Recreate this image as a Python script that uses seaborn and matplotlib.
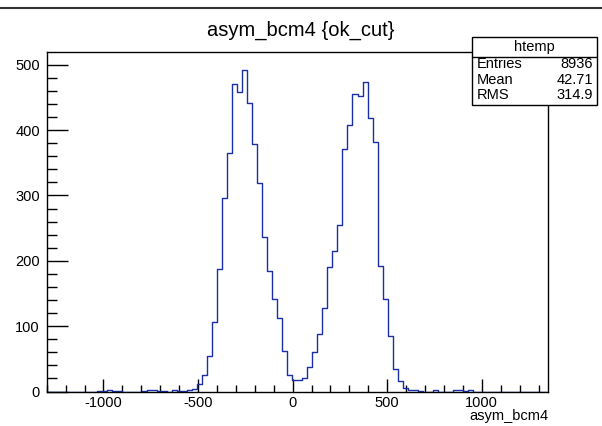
import numpy as np
import pandas as pd
import matplotlib
matplotlib.use("Agg")
import matplotlib.pyplot as plt
from matplotlib.ticker import MultipleLocator
from matplotlib.lines import Line2D
from matplotlib.patches import Rectangle
import seaborn as sns

# ---- data ----
x_min, x_max, n_bins = -1300.0, 1350.0, 100
counts = [
    0, 0, 0, 0, 0, 0, 0, 0, 0, 0,
    1, 1, 3, 1, 1, 0, 0, 0, 0, 1,
    2, 3, 1, 1, 0, 2, 1, 1, 3, 4,
    11, 26, 55, 106, 188, 296, 365, 470, 459, 492,
    441, 379, 319, 237, 184, 141, 113, 62, 26, 17,
    18, 21, 37, 61, 88, 128, 190, 215, 254, 371,
    408, 455, 452, 473, 419, 381, 192, 141, 85, 34,
    16, 6, 2, 2, 1, 0, 0, 3, 0, 0,
    0, 3, 3, 1, 3, 0, 0, 0, 0, 0,
    0, 0, 0, 0, 0, 0, 0, 0, 0, 0,
]
title = "asym_bcm4 {ok_cut}"
x_label = "asym_bcm4"
stats_name = "htemp"
stats_labels = ["Entries", "Mean", "RMS"]
stats_values = ["8936", "42.71", "314.9"]

edges = [float(e) for e in np.linspace(x_min, x_max, n_bins + 1)]
centers = [0.5 * (edges[i] + edges[i + 1]) for i in range(n_bins)]
df = pd.DataFrame({"x": centers, "w": counts})

# ---- figure ----
W, H = 602, 426
sns.set_style("white")
plt.rcParams["font.family"] = ["Liberation Sans", "DejaVu Sans"]
plt.rcParams["text.color"] = "black"
plt.rcParams["xtick.color"] = "black"
plt.rcParams["ytick.color"] = "black"
plt.rcParams["xtick.labelcolor"] = "black"
plt.rcParams["ytick.labelcolor"] = "black"
fig = plt.figure(figsize=(W / 100, H / 100), dpi=100)

def fx(px):
    return px / W

def fy(py):
    return 1 - py / H

L, R, T, B = 46.7, 548.0, 52.3, 391.5
ax = fig.add_axes([fx(L), fy(B), fx(R) - fx(L), fy(T) - fy(B)])

sns.histplot(data=df, x="x", weights="w", bins=edges, element="step",
             fill=False, color="#1a2fa8", linewidth=1.0, ax=ax)

ax.set_xlim(x_min, x_max)
ax.set_ylim(0, 519)
ax.set_xlabel("")
ax.set_ylabel("")
for s in ax.spines.values():
    s.set_color("black")
    s.set_linewidth(1.0)

ax.xaxis.set_major_locator(MultipleLocator(500))
ax.xaxis.set_minor_locator(MultipleLocator(100))
ax.yaxis.set_major_locator(MultipleLocator(100))
ax.yaxis.set_minor_locator(MultipleLocator(20))
ax.tick_params(axis="x", which="both", bottom=True, top=False, direction="in",
               color="black", width=1)
ax.tick_params(axis="x", which="major", length=9.5, labelsize=10.5, pad=3)
ax.tick_params(axis="x", which="minor", length=4.8)
ax.tick_params(axis="y", which="both", left=True, right=False, direction="in",
               color="black", width=1)
ax.tick_params(axis="y", which="major", length=15, labelsize=10.5, pad=5)
ax.tick_params(axis="y", which="minor", length=7.5)
ax.set_xticks([-1000, -500, 0, 500, 1000])
ax.set_xticklabels(["-1000", "-500", "0", "500", "1000"])
ax.set_xlim(x_min, x_max)

fig.text(fx(548), fy(416), x_label, ha="right", va="center", fontsize=10.5)
fig.text(fx(301), fy(30), title, ha="center", va="center", fontsize=14.5)

# top border line
fig.add_artist(Line2D([0, 1], [fy(8), fy(8)], color="#333333", linewidth=1.5,
                      transform=fig.transFigure))

# stats box
bl, br, bt, bb = 472.3, 597.3, 37.3, 105.0
fig.add_artist(Rectangle((fx(bl), fy(bb)), fx(br) - fx(bl), fy(bt) - fy(bb),
                         transform=fig.transFigure, facecolor="white",
                         edgecolor="black", linewidth=1.0, zorder=10))
fig.add_artist(Line2D([fx(bl), fx(br)], [fy(56.5), fy(56.5)], color="black",
                      linewidth=1.0, transform=fig.transFigure, zorder=11))
fig.text(fx((bl + br) / 2), fy(46.5), stats_name, ha="center", va="center",
         fontsize=10.5, zorder=12)
rows_y = [64, 79.5, 95]
for lab, val, yy in zip(stats_labels, stats_values, rows_y):
    fig.text(fx(bl + 4), fy(yy), lab, ha="left", va="center", fontsize=10.5, zorder=12)
    fig.text(fx(br - 4), fy(yy), val, ha="right", va="center", fontsize=10.5, zorder=12)

fig.savefig("out.png", dpi=100)
